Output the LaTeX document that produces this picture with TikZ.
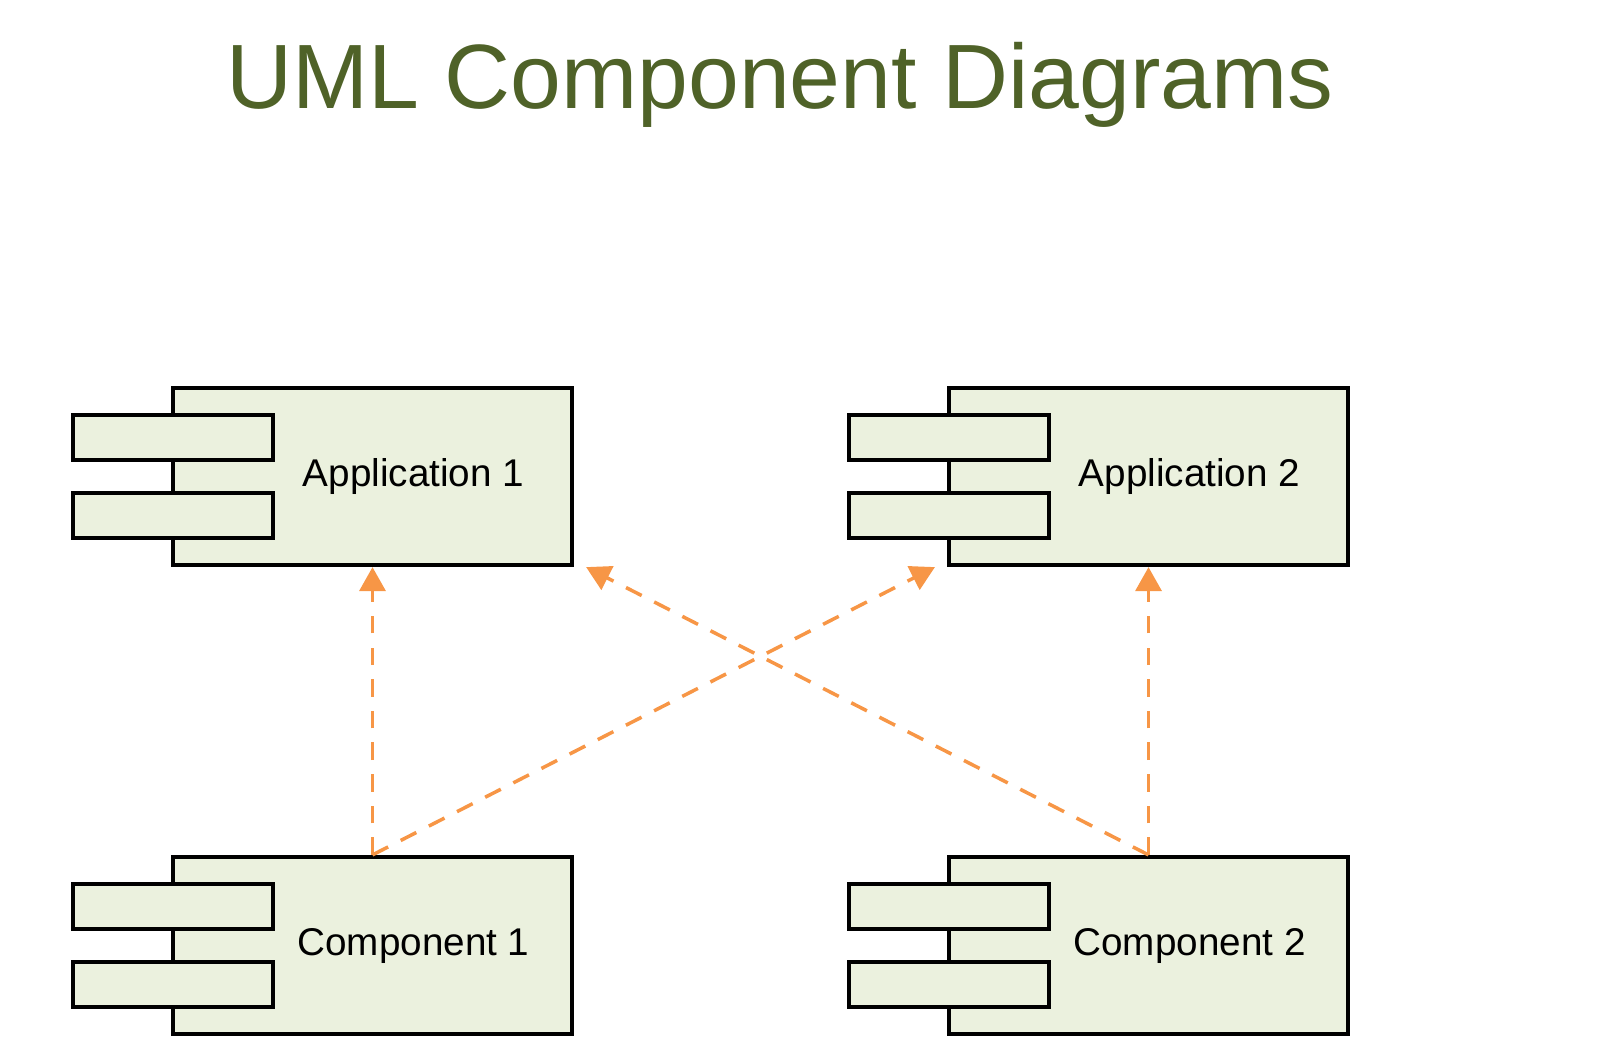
\documentclass[tikz,border=0pt]{standalone}
\usepackage{fontspec}
\setmainfont{Liberation Sans}
\usetikzlibrary{arrows.meta}
\definecolor{boxfill}{HTML}{EBF1DE}
\definecolor{titlegreen}{HTML}{4F6228}
\definecolor{depend}{HTML}{F79646}
\tikzstyle{body} = [rectangle, minimum width=3.99cm, minimum height=1.77cm, draw=black, fill=boxfill, line width=1.2pt]
\tikzstyle{tab} = [rectangle, minimum width=2cm, minimum height=0.45cm, draw=black, fill=boxfill, line width=1.2pt]
\tikzstyle{dep} = [depend, line width=1pt, dash pattern=on 5pt off 4pt, -{Triangle[length=0.24cm, width=0.26cm]}]
\newcommand{\umlcomp}[4]{%
    \node (#1) [body] at (#2, #3) {};
    \node [font=\fontsize{11}{13}\selectfont] at (#2+0.41, #3) {#4};
    \node (#1t1) [tab] at (#2-1.995, #3+0.39) {};
    \node (#1t2) [tab] at (#2-1.995, #3-0.39) {};
}

\begin{document}
\begin{tikzpicture}
    \useasboundingbox (0, 0) rectangle (16, -10.59);

    \node (title) [text=titlegreen, font=\fontsize{26}{30}\selectfont] at (7.8, -0.85) {UML Component Diagrams};

    \umlcomp{appA}{3.725}{-4.765}{Application 1}
    \umlcomp{appB}{11.485}{-4.765}{Application 2}
    \umlcomp{compA}{3.725}{-9.455}{Component 1}
    \umlcomp{compB}{11.485}{-9.455}{Component 2}

    \draw[dep] (compA.north) -- (appA.south);
    \draw[dep] (compA.north) -- ([xshift=-0.12cm]appB.south west);
    \draw[dep] (compB.north) -- ([xshift=0.12cm]appA.south east);
    \draw[dep] (compB.north) -- (appB.south);

\end{tikzpicture}
\end{document}
